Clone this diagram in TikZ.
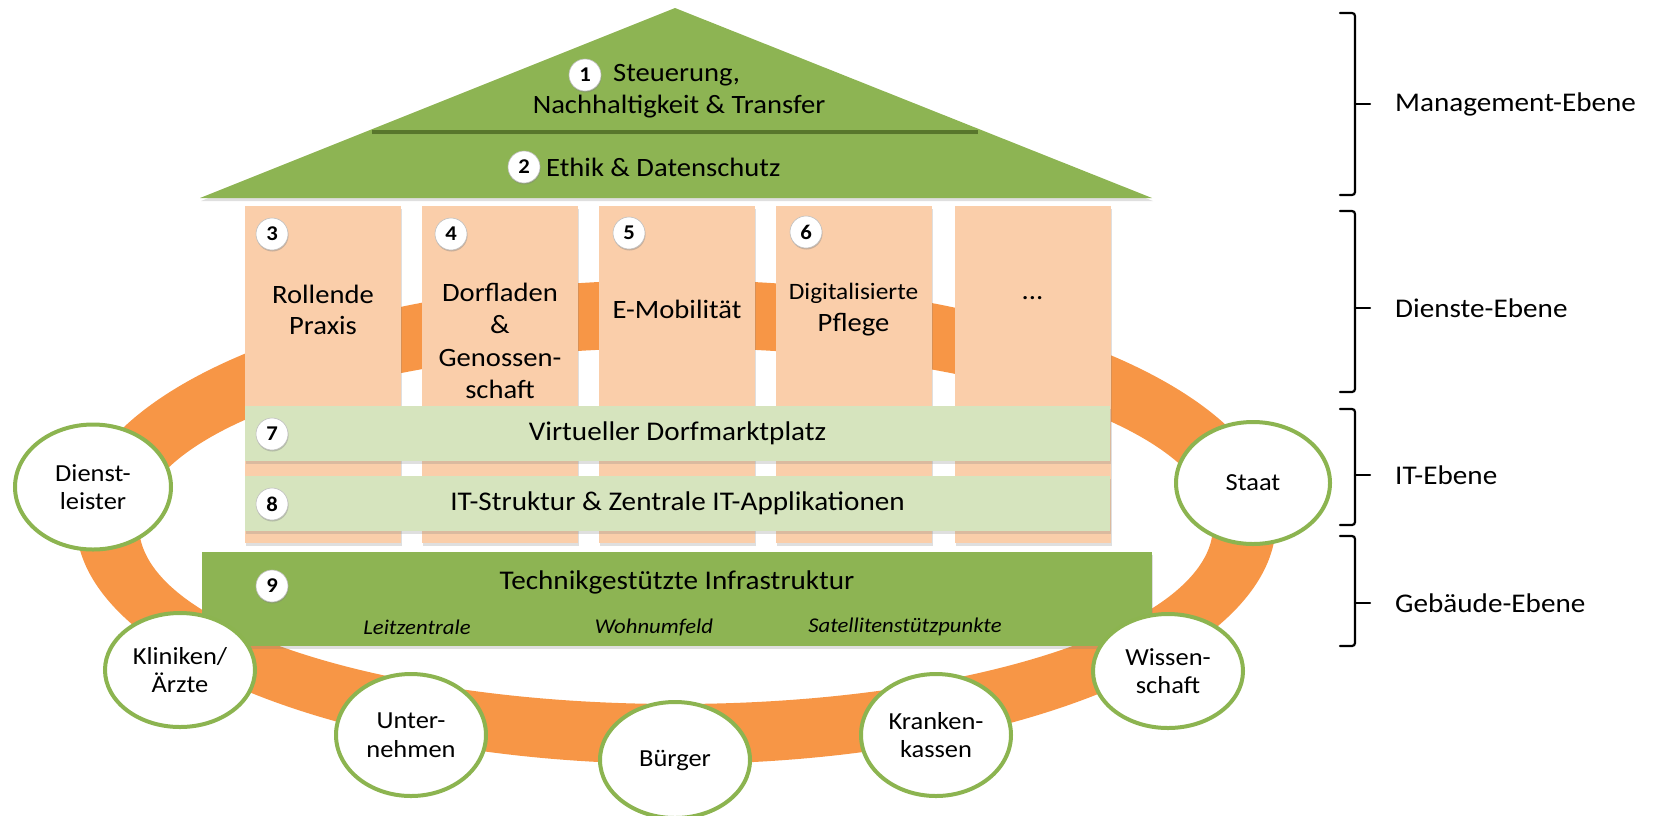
\documentclass[tikz,border=0pt]{standalone}
\usepackage{fontspec}
\setmainfont{Carlito}[FakeStretch=1.08]
\usetikzlibrary{shadows,shapes.geometric}
\definecolor{roofgreen}{RGB}{141,180,83}
\definecolor{sepgreen}{RGB}{88,118,44}
\definecolor{peach}{RGB}{250,206,170}
\definecolor{lightgreen}{RGB}{214,228,190}
\definecolor{ringorange}{RGB}{247,150,70}
\definecolor{ellgreen}{RGB}{140,180,80}
\begin{document}
\begin{tikzpicture}[x=1pt,y=-1pt,
  shd/.style={drop shadow={shadow xshift=1pt,shadow yshift=-3pt,opacity=0.25}},
  pillar/.style={rectangle,fill=peach,minimum width=156pt,minimum height=337pt,inner sep=0pt,shd},
  band/.style={rectangle,fill=lightgreen,minimum width=865pt,minimum height=55pt,inner sep=0pt,font=\fontsize{27}{30}\selectfont,shd},
  num/.style={circle,fill=white,draw=black!25,line width=0.6pt,minimum size=32pt,inner sep=0pt,font=\fontsize{21}{21}\selectfont\bfseries,drop shadow={shadow xshift=0.5pt,shadow yshift=-1.5pt,opacity=0.4}},
  txt/.style={font=\fontsize{26.5}{31.5}\selectfont,align=center,inner sep=0pt},
  itl/.style={font=\fontsize{21}{24}\selectfont\itshape,inner sep=0pt},
  actor/.style={ellipse,fill=white,draw=ellgreen,line width=4pt,inner sep=0pt,align=center,font=\fontsize{24.5}{28.5}\selectfont},
  lvl/.style={font=\fontsize{27}{30}\selectfont,anchor=west,inner sep=0pt},
  brace/.style={line width=2.2pt,line cap=round,rounded corners=3pt}
]
\useasboundingbox (0,0) rectangle (1654,815);
% orange ring
\fill[ringorange,even odd rule] (676,522) ellipse [x radius=600pt,y radius=242pt]
  (676,526) ellipse [x radius=537pt,y radius=178pt];
% pillars
\node[pillar] (p3) at (323,374.5) {};
\node[pillar] (p4) at (500,374.5) {};
\node[pillar] (p5) at (677,374.5) {};
\node[pillar] (p6) at (853.5,374.5) {};
\node[pillar] (p7) at (1032.5,374.5) {};
\node[num] (n3) at (272,234) {3};
\node[num] (n4) at (451,234) {4};
\node[num] (n5) at (629,233) {5};
\node[num] (n6) at (806,232) {6};
\node[txt] (t3) at (323,310) {Rollende\\Praxis};
\node[txt,font=\fontsize{26.5}{32.5}\selectfont] (t4) at (500,341) {Dorfladen\\\&\\Genossen-\\schaft};
\node[txt] (t5) at (677,309) {E-Mobilität};
\node[txt,font=\fontsize{23.5}{26}\selectfont] (t6a) at (853.5,293) {Digitalisierte};
\node[txt] (t6b) at (853.5,325) {Pflege};
\node[txt] (t7) at (1032.5,298) {...};
% IT bands
\node[band] (b7) at (677.5,433.5) {Virtueller Dorfmarktplatz};
\node[band] (b8) at (677.5,503) {IT-Struktur \& Zentrale IT-Applikationen};
\node[num] (n7) at (272,434) {7};
\node[num] (n8) at (272,504) {8};
% building band
\node[rectangle,fill=roofgreen,minimum width=950pt,minimum height=94pt,inner sep=0pt,shd] (b9) at (677,599) {};
\node[txt,font=\fontsize{27}{30}\selectfont] (t9) at (677,582) {Technikgestützte Infrastruktur};
\node[num] (n9) at (272,586) {9};
\node[itl] (l1) at (417,627) {Leitzentrale};
\node[itl] (l2) at (654,627) {Wohnumfeld};
\node[itl] (l3) at (905,627) {Satellitenstützpunkte};
% roof
\fill[roofgreen,shd] (675,8) -- (1152,198) -- (200,198) -- cycle;
\draw[sepgreen,line width=3.5pt,drop shadow={shadow xshift=0pt,shadow yshift=-2pt,opacity=0.3}] (372,132) -- (978,132);
\node[num] (n1) at (585,75) {1};
\node[txt,anchor=west] (t1a) at (613,75) {Steuerung,};
\node[txt] (t1b) at (679,107) {Nachhaltigkeit \& Transfer};
\node[num] (n2) at (524,167) {2};
\node[txt,anchor=west] (t2) at (546,167) {Ethik \& Datenschutz};
% actors
\node[actor,minimum width=156pt,minimum height=125pt] (dl) at (93,487) {Dienst-\\leister};
\node[actor,minimum width=150pt,minimum height=114pt] (kl) at (180,670) {Kliniken/\\Ärzte};
\node[actor,minimum width=150pt,minimum height=122pt] (un) at (411,735) {Unter-\\nehmen};
\node[actor,minimum width=150pt,minimum height=116pt] (bu) at (675,760) {Bürger};
\node[actor,minimum width=150pt,minimum height=122pt] (kk) at (936,735) {Kranken-\\kassen};
\node[actor,minimum width=150pt,minimum height=114pt] (ws) at (1168,671) {Wissen-\\schaft};
\node[actor,minimum width=154pt,minimum height=122pt] (st) at (1253,483) {Staat};
% braces
\draw[brace] (1340,13) -- (1355,13) -- (1355,195) -- (1340,195);
\draw[brace,rounded corners=0pt] (1355,104) -- (1370,104);
\draw[brace] (1340,211) -- (1355,211) -- (1355,392) -- (1340,392);
\draw[brace,rounded corners=0pt] (1355,308) -- (1370,308);
\draw[brace] (1340,409) -- (1355,409) -- (1355,525) -- (1340,525);
\draw[brace,rounded corners=0pt] (1355,475) -- (1370,475);
\draw[brace] (1340,536) -- (1355,536) -- (1355,646) -- (1340,646);
\draw[brace,rounded corners=0pt] (1355,603) -- (1370,603);
\node[lvl] (e1) at (1395,104) {Management-Ebene};
\node[lvl] (e2) at (1395,308) {Dienste-Ebene};
\node[lvl] (e3) at (1395,475) {IT-Ebene};
\node[lvl] (e4) at (1395,603) {Gebäude-Ebene};
\end{tikzpicture}
\end{document}
